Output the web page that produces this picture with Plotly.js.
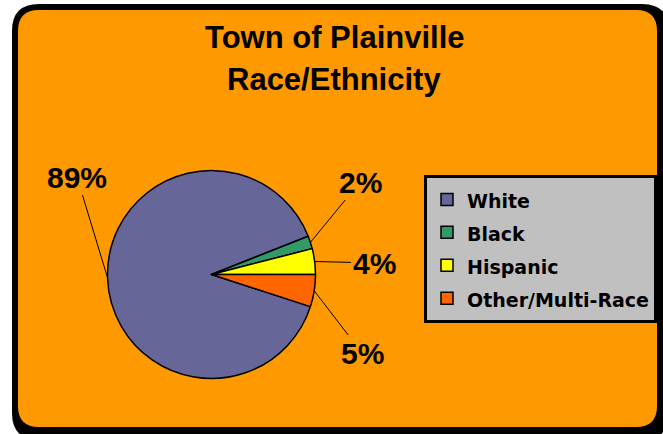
<!DOCTYPE html>
<html>
<head>
<meta charset="utf-8">
<script src="https://cdn.plot.ly/plotly-3.0.1.min.js"></script>
<style>html,body{margin:0;padding:0;background:#fff;}</style>
</head>
<body>
<div id="chart" style="width:663px;height:434px;"></div>
<script>
// ---- data ----
const categories = ['White', 'Black', 'Hispanic', 'Other/Multi-Race'];
const values = [89, 2, 4, 5];
const sliceColors = ['#666699', '#339966', '#FFFF00', '#FF6600'];
const titleLines = ['Town of Plainville', 'Race/Ethnicity'];

// ---- layout constants (pixels) ----
const W = 663, H = 434;
const pieCx = 211.5, pieCy = 274.5, pieR = 104;
const rotation = 108;
const labelCenters = [[77, 177], [360, 182], [374, 263], [362, 353]];
const titleCenters = [[335, 37], [334, 80]];

const px = v => v / W;
const py = v => 1 - v / H;

function roundRect(x0, y0, x1, y1, r) {
  const rx = r / W, ry = r / H;
  const a = px(x0), b = px(x1), t = py(y0), u = py(y1);
  return `M${a + rx},${t} L${b - rx},${t} Q${b},${t} ${b},${t - ry} L${b},${u + ry} Q${b},${u} ${b - rx},${u} L${a + rx},${u} Q${a},${u} ${a},${u + ry} L${a},${t - ry} Q${a},${t} ${a + rx},${t} Z`;
}

const boldArial = {family: 'Liberation Sans, Arial, sans-serif', color: '#000', weight: 'bold'};

const total = values.reduce((s, v) => s + v, 0);
let cum = 0;
const annotations = values.map((v, i) => {
  const mid = rotation + (cum + v / 2) / total * 360;
  cum += v;
  const ang = mid * Math.PI / 180;
  const tipX = pieCx + pieR * Math.sin(ang);
  const tipY = pieCy - pieR * Math.cos(ang);
  return {
    x: px(tipX), y: py(tipY), xref: 'paper', yref: 'paper',
    text: Math.round(v / total * 100) + '%',
    showarrow: true, arrowhead: 0, arrowwidth: 1, arrowcolor: '#000',
    standoff: 0, startstandoff: 0,
    ax: labelCenters[i][0] - tipX, ay: labelCenters[i][1] - tipY,
    font: Object.assign({size: 30}, boldArial)
  };
});

titleLines.forEach((t, i) => {
  annotations.push({
    x: px(titleCenters[i][0]), y: py(titleCenters[i][1]), xref: 'paper', yref: 'paper',
    xanchor: 'center', yanchor: 'middle', showarrow: false,
    text: t, font: Object.assign({size: 31}, boldArial)
  });
});

const trace = {
  type: 'pie',
  labels: categories.map(c => `<span style="font-size:19px">${c}</span>`),
  values: values,
  sort: false,
  direction: 'clockwise',
  rotation: rotation,
  textinfo: 'none',
  hoverinfo: 'none',
  marker: {colors: sliceColors, line: {color: '#000', width: 1.5}},
  domain: {x: [px(pieCx - pieR), px(pieCx + pieR)], y: [py(pieCy + pieR), py(pieCy - pieR)]}
};

const layout = {
  width: W, height: H,
  margin: {l: 0, r: 0, t: 0, b: 0},
  paper_bgcolor: '#ffffff',
  showlegend: true,
  legend: {
    x: px(424), y: py(175), xanchor: 'left', yanchor: 'top',
    bgcolor: '#C0C0C0', bordercolor: '#000', borderwidth: 3,
    font: {family: 'DejaVu Sans, sans-serif', size: 23, color: '#000', weight: 'bold'},
    traceorder: 'normal'
  },
  shapes: [
    {type: 'path', xref: 'paper', yref: 'paper', layer: 'below', path: roundRect(12, 4, 669, 440, 27), fillcolor: '#000', line: {width: 0}},
    {type: 'path', xref: 'paper', yref: 'paper', layer: 'below', path: roundRect(18, 10, 657, 427, 21), fillcolor: '#FF9900', line: {width: 0}}
  ],
  annotations: annotations
};

Plotly.newPlot('chart', [trace], layout, {displayModeBar: false, staticPlot: true});
</script>
</body>
</html>
